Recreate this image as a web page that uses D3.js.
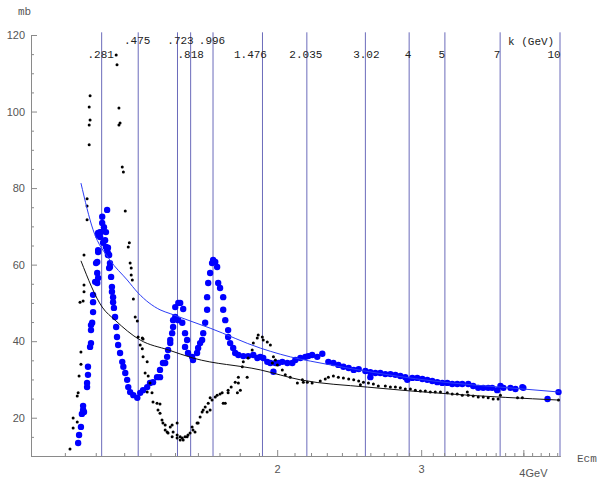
<!DOCTYPE html>
<html>
<head>
<meta charset="utf-8">
<script src="https://cdn.jsdelivr.net/npm/d3@7"></script>
<style>
  body { margin: 0; background: #fff; }
  svg { display: block; }
  .mono { font-family: "Liberation Mono", "Courier New", monospace; }
  .sans { font-family: "Liberation Sans", Arial, sans-serif; }
</style>
</head>
<body>
<svg id="chart" width="604" height="484"></svg>
<script>
// lab momentum of the pion (GeV/c) marked by the vertical lines
const kValues = [0.281, 0.475, 0.723, 0.818, 0.996, 1.476, 2.035, 3.02, 4, 5, 7, 10];
const kLabels = [".281", ".475", ".723", ".818", ".996", "1.476", "2.035", "3.02", "4", "5", "7", "10"];

const xMajor = [2, 3];
const xMinor = [1.1, 1.2, 1.3, 1.4, 1.5, 1.6, 1.7, 1.8, 1.9, 2.1, 2.2, 2.3, 2.4, 2.5, 2.6, 2.7, 2.8, 2.9,
  3.1, 3.2, 3.3, 3.4, 3.5, 3.6, 3.7, 3.8, 3.9, 4, 4.1, 4.2, 4.3, 4.4];
const yMajor = [20, 40, 60, 80, 100, 120];
const yMinor = [10, 15, 25, 30, 35, 45, 50, 55, 65, 70, 75, 85, 90, 95, 105, 110, 115];

// [Ecm GeV, sigma mb] big blue dots
const blueData = [
  [1.142,13.4],[1.145,15.5],[1.151,17.6],[1.154,21.0],[1.158,22.0],[1.158,23.1],[1.161,21.5],
  [1.171,28.0],[1.171,29.1],[1.174,31.2],[1.174,33.3],[1.181,38.5],[1.184,39.5],[1.184,42.9],
  [1.184,44.2],[1.188,44.8],[1.191,47.6],[1.191,50.2],[1.191,52.1],[1.198,55.5],[1.201,60.4],
  [1.205,57.8],[1.205,55.2],[1.208,56.5],[1.205,60.7],[1.208,63.8],[1.208,63.3],[1.208,67.7],
  [1.208,68.3],[1.215,67.2],[1.215,68.5],[1.218,68.5],[1.222,72.5],[1.222,70.9],[1.225,65.7],
  [1.228,69.8],[1.232,66.4],[1.235,68.5],[1.235,64.6],[1.239,74.3],[1.239,63.8],[1.242,64.4],
  [1.242,63.0],[1.242,62.5],[1.246,62.5],[1.249,60.4],[1.246,59.1],[1.249,59.4],[1.253,56.8],
  [1.256,54.2],[1.256,52.9],[1.260,51.5],[1.260,50.2],[1.263,48.7],[1.267,46.3],[1.271,43.7],
  [1.274,41.1],[1.278,39.0],[1.285,36.9],[1.293,34.6],[1.297,33.3],[1.304,31.7],[1.311,29.9],
  [1.315,28.0],[1.322,26.7],[1.334,25.9],[1.349,25.2],[1.360,26.5],[1.371,27.2],[1.387,28.0],
  [1.398,29.1],[1.410,29.3],[1.426,30.6],[1.438,32.5],[1.438,30.6],[1.450,34.3],[1.459,34.3],
  [1.467,35.9],[1.471,37.7],[1.480,39.5],[1.480,40.3],[1.488,42.1],[1.492,43.7],[1.492,45.5],
  [1.501,46.3],[1.501,48.9],[1.514,45.5],[1.514,50.0],[1.522,50.0],[1.535,48.4],[1.531,44.8],
  [1.543,42.1],[1.552,40.3],[1.543,38.5],[1.556,36.9],[1.574,35.9],[1.578,35.1],[1.596,36.9],
  [1.601,38.2],[1.610,39.5],[1.619,40.3],[1.624,42.1],[1.633,44.8],[1.642,48.2],[1.642,51.5],
  [1.647,55.2],[1.656,57.8],[1.665,60.4],[1.670,61.2],[1.680,60.7],[1.689,59.4],[1.694,55.2],
  [1.703,53.9],[1.718,51.5],[1.718,48.2],[1.728,45.5],[1.742,42.9],[1.742,41.1],[1.752,39.5],
  [1.767,38.2],[1.777,36.9],[1.793,36.4],[1.818,36.1],[1.843,36.1],[1.870,36.4],[1.891,35.6],
  [1.907,35.9],[1.923,35.6],[1.945,34.6],[1.962,34.3],[1.979,32.0],[1.990,34.3],[2.007,34.3],
  [2.029,34.6],[2.058,34.3],[2.087,34.3],[2.105,35.1],[2.135,35.6],[2.165,35.9],[2.183,36.1],
  [2.207,36.4],[2.239,35.9],[2.271,36.7],[2.310,34.6],[2.343,34.3],[2.376,33.8],[2.410,33.3],
  [2.446,33.0],[2.481,32.5],[2.516,32.7],[2.564,32.2],[2.600,31.9],[2.600,30.6],[2.637,31.7],
  [2.674,31.7],[2.712,31.4],[2.751,31.4],[2.790,31.2],[2.829,30.9],[2.869,30.6],[2.885,29.9],
  [2.926,30.4],[2.967,30.4],[3.010,30.1],[3.052,29.9],[3.095,29.6],[3.139,29.3],[3.184,29.1],
  [3.229,29.1],[3.274,28.8],[3.321,28.8],[3.368,28.8],[3.425,28.8],[3.473,28.3],[3.523,27.8],
  [3.573,27.8],[3.623,27.8],[3.664,27.8],[3.716,27.2],[3.750,28.3],[3.782,27.8],[3.857,27.8],
  [3.912,27.5],[3.989,28.0],[4.000,27.8],[4.282,24.9],[4.416,26.7]
];

// [Ecm GeV, sigma mb] small black dots
const blackData = [
  [1.116,11.8],[1.126,17.3],[1.126,19.9],[1.139,18.9],[1.139,25.7],[1.142,26.5],[1.145,30.9],
  [1.151,34.0],[1.151,37.2],[1.148,50.2],[1.158,50.5],[1.161,52.9],[1.161,54.7],[1.161,62.5],
  [1.171,71.7],[1.171,75.3],[1.171,77.2],[1.178,91.3],[1.178,96.5],[1.181,97.8],[1.178,101.2],
  [1.181,104.1],[1.271,114.8],[1.274,112.2],[1.281,100.9],[1.285,97.0],[1.281,96.5],[1.293,85.5],
  [1.297,84.2],[1.304,74.0],[1.319,65.7],[1.315,64.6],[1.322,60.4],[1.326,59.1],[1.326,57.3],
  [1.330,56.0],[1.334,51.0],[1.341,46.3],[1.349,45.3],[1.352,41.1],[1.368,40.8],[1.371,40.6],
  [1.360,39.0],[1.368,38.0],[1.371,35.9],[1.387,34.6],[1.379,31.7],[1.391,30.9],[1.398,29.1],
  [1.387,26.7],[1.406,26.5],[1.410,24.1],[1.426,23.8],[1.438,23.6],[1.430,22.0],[1.438,21.2],
  [1.446,19.4],[1.450,18.6],[1.459,18.1],[1.459,16.8],[1.467,16.3],[1.471,16.0],[1.480,17.6],
  [1.488,18.1],[1.488,15.0],[1.492,16.3],[1.509,18.6],[1.509,15.5],[1.509,14.7],[1.522,15.0],
  [1.522,14.2],[1.531,14.7],[1.535,14.2],[1.543,15.0],[1.552,15.0],[1.556,15.5],[1.565,16.0],
  [1.574,17.6],[1.578,16.8],[1.587,16.3],[1.596,18.6],[1.601,18.6],[1.610,20.2],[1.619,21.5],
  [1.624,22.0],[1.633,22.8],[1.642,21.5],[1.647,23.8],[1.656,25.2],[1.656,22.0],[1.665,24.6],
  [1.680,25.4],[1.689,25.9],[1.703,26.2],[1.713,26.5],[1.718,23.8],[1.728,23.8],[1.742,27.2],
  [1.742,26.5],[1.757,28.0],[1.777,29.3],[1.788,26.5],[1.793,30.6],[1.793,29.1],[1.803,27.2],
  [1.813,33.3],[1.818,34.6],[1.838,30.6],[1.843,35.6],[1.864,37.7],[1.870,39.5],[1.891,40.8],
  [1.896,41.6],[1.918,41.1],[1.923,40.3],[1.945,39.8],[1.962,39.0],[1.979,35.9],[1.990,35.1],
  [1.973,34.3],[2.001,33.8],[2.029,32.5],[2.046,31.2],[2.075,30.6],[2.117,29.1],[2.147,29.9],
  [2.153,29.3],[2.177,29.3],[2.207,29.1],[2.258,29.6],[2.290,30.1],[2.310,30.6],[2.343,30.9],
  [2.376,30.6],[2.410,30.4],[2.446,30.1],[2.481,29.9],[2.516,29.6],[2.528,28.6],[2.550,29.3],
  [2.586,29.1],[2.622,28.8],[2.659,28.3],[2.712,28.3],[2.751,28.0],[2.790,28.0],[2.829,27.8],
  [2.869,27.5],[2.910,27.5],[2.951,27.2],[2.993,27.0],[3.035,27.0],[3.078,26.7],[3.121,26.7],
  [3.167,26.7],[3.229,26.5],[3.274,26.2],[3.321,26.2],[3.368,25.9],[3.416,26.7],[3.425,25.9],
  [3.473,25.7],[3.523,25.4],[3.573,25.4],[3.623,25.2],[3.674,24.9],[3.726,24.9],[3.750,25.9],
  [3.935,25.2],[3.989,25.2],[4.416,24.6]
];

// smooth fits
const blueFit = [[1.151,81.3],[1.191,69.1],[1.249,61.2],[1.311,56.0],[1.352,52.6],[1.438,48.2],
  [1.480,47.2],[1.565,45.3],[1.656,43.4],[1.907,38.2],[2.135,35.3],[2.195,34.8],[3.258,29.1],
  [3.750,28.0],[4.434,26.7]];
const blackFit = [[1.151,61.0],[1.222,48.9],[1.267,45.5],[1.360,40.3],[1.473,37.7],[1.578,35.6],
  [1.907,32.5],[2.135,29.9],[2.578,28.0],[3.258,26.2],[4.434,24.6]];

// layout for the k labels: row (0 upper, 1 lower) and nudge in px
const labelRow = [1, 0, 0, 1, 0, 1, 1, 1, 1, 1, 1, 1];
const labelDx = [-1, -1, 3, 0, -1, -12, -1, 1, -1, -3, -3, -6];

const MPI = 0.1396, MP = 0.9383;
function ecm(k) {
  const epi = Math.sqrt(k * k + MPI * MPI);
  return Math.sqrt(MPI * MPI + MP * MP + 2 * MP * epi);
}

const svg = d3.select("#chart");
svg.append("rect").attr("width", 604).attr("height", 484).attr("fill", "#fff");

const x = d3.scaleLog().domain([1, ecm(10)]).range([31, 560]);
const y = d3.scaleLinear().domain([10, 120]).range([456, 35]);

// vertical k lines
svg.append("g")
  .selectAll("line")
  .data(kValues)
  .enter()
  .append("line")
  .attr("x1", d => x(ecm(d)))
  .attr("x2", d => x(ecm(d)))
  .attr("y1", y(120.7))
  .attr("y2", y(10))
  .attr("stroke", "#6b6bbb")
  .attr("stroke-width", 1);

svg.append("g")
  .selectAll("text")
  .data(kLabels)
  .enter()
  .append("text")
  .attr("class", "mono")
  .attr("x", (d, i) => x(ecm(kValues[i])) + labelDx[i])
  .attr("y", (d, i) => labelRow[i] ? 58 : 44)
  .attr("text-anchor", "middle")
  .attr("font-size", "11px")
  .attr("fill", "#222")
  .text(d => d);

svg.append("text")
  .attr("class", "mono")
  .attr("x", 508).attr("y", 45)
  .attr("font-size", "11px")
  .attr("fill", "#222")
  .text("k (GeV)");

// axes
const axisColor = "#8a8a8a";
const xAxisMinor = d3.axisBottom(x).tickValues(xMinor).tickSize(-3).tickSizeOuter(0).tickFormat("");
const xAxisMajor = d3.axisBottom(x).tickValues(xMajor).tickSize(-6).tickSizeOuter(0)
  .tickPadding(9).tickFormat(d3.format("d"));
const yAxisMinor = d3.axisLeft(y).tickValues(yMinor).tickSize(-3).tickSizeOuter(0).tickFormat("");
const yAxisMajor = d3.axisLeft(y).tickValues(yMajor).tickSize(-6).tickSizeOuter(0)
  .tickPadding(6).tickFormat(d3.format("d"));

function styleAxis(g) {
  g.selectAll("path, line").attr("stroke", axisColor);
  g.selectAll("text").attr("class", "sans").attr("font-size", "11px").attr("fill", "#555");
}

svg.append("g").attr("transform", "translate(0,456)").call(xAxisMinor).call(styleAxis);
svg.append("g").attr("transform", "translate(0,456)").call(xAxisMajor).call(styleAxis);
svg.append("g").attr("transform", "translate(31,0)").call(yAxisMinor).call(styleAxis);
svg.append("g").attr("transform", "translate(31,0)").call(yAxisMajor).call(styleAxis);

// tick 4 carries the unit
svg.append("g")
  .attr("transform", "translate(0,456)")
  .call(d3.axisBottom(x).tickValues([4]).tickSize(-6).tickSizeOuter(0).tickFormat(""))
  .call(styleAxis);
svg.append("text")
  .attr("class", "sans")
  .attr("x", x(4) - 4).attr("y", 477)
  .attr("font-size", "11px").attr("fill", "#555")
  .text("4GeV");

svg.append("text")
  .attr("class", "mono")
  .attr("x", 577).attr("y", 462)
  .attr("font-size", "11px").attr("fill", "#555")
  .text("Ecm");

svg.append("text")
  .attr("class", "mono")
  .attr("x", 18).attr("y", 15)
  .attr("font-size", "11px").attr("fill", "#555")
  .text("mb");

// data
svg.append("g")
  .selectAll("circle")
  .data(blueData)
  .enter()
  .append("circle")
  .attr("cx", d => x(d[0]))
  .attr("cy", d => y(d[1]))
  .attr("r", 3.2)
  .attr("fill", "#0000ff");

svg.append("g")
  .selectAll("circle")
  .data(blackData)
  .enter()
  .append("circle")
  .attr("cx", d => x(d[0]))
  .attr("cy", d => y(d[1]))
  .attr("r", 1.5)
  .attr("fill", "#000");

const line = d3.line()
  .x(d => x(d[0]))
  .y(d => y(d[1]))
  .curve(d3.curveMonotoneX);

svg.append("path")
  .datum(blueFit)
  .attr("d", line)
  .attr("fill", "none")
  .attr("stroke", "#2b3cf5")
  .attr("stroke-width", 1);

svg.append("path")
  .datum(blackFit)
  .attr("d", line)
  .attr("fill", "none")
  .attr("stroke", "#111")
  .attr("stroke-width", 1);
</script>
</body>
</html>
